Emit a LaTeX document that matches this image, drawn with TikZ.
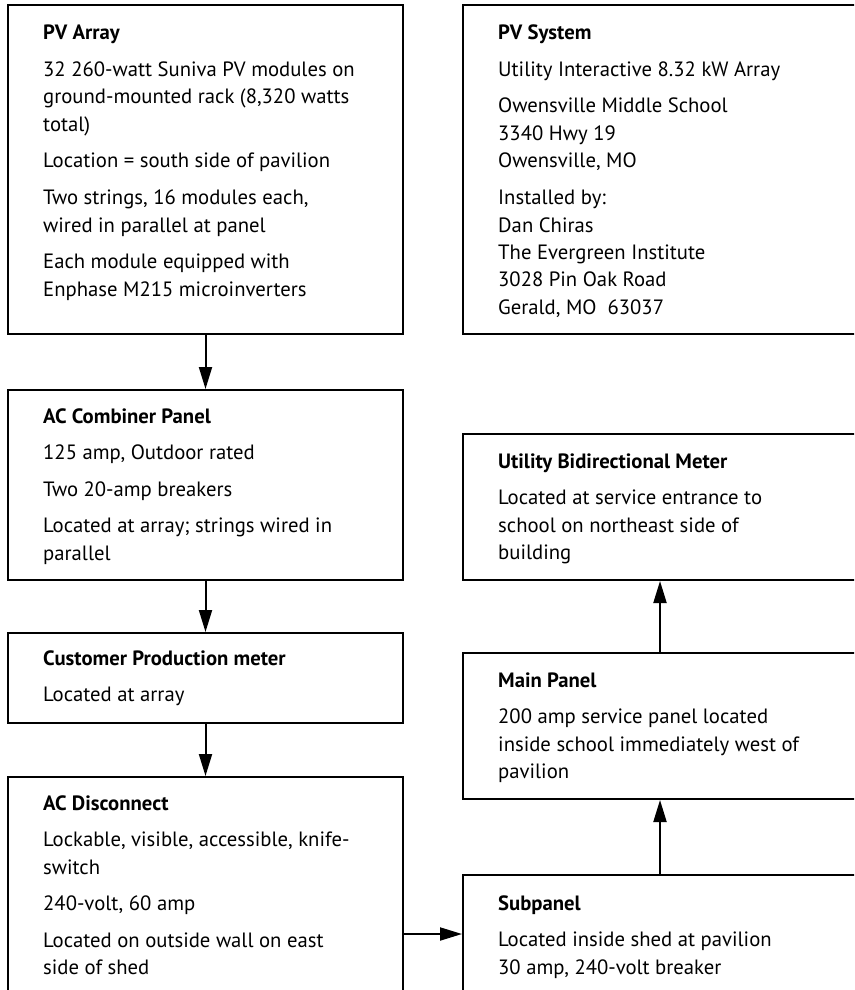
\documentclass[tikz,border=0pt]{standalone}
\usepackage{fontspec}
\setmainfont{PT Sans}
\usetikzlibrary{arrows.meta}
\newcommand{\psep}{\\[9pt]}
\newcommand{\boxtext}[2]{\parbox[t]{380pt}{\fontsize{20.7pt}{27.5pt}\selectfont\raggedright{\bfseries #1}\psep #2}}
\begin{document}
\begin{tikzpicture}[x=1pt,y=-1pt,
  box/.style={draw=black,line width=2pt,anchor=north west,inner sep=0pt},
  lbl/.style={anchor=base west,inner sep=0pt},
  conn/.style={line width=2pt,-{Triangle[length=22pt,width=13pt]}}]
\useasboundingbox (0,0) rectangle (854,990);
\clip (0,0) rectangle (854,990);
% boxes
\node[box,minimum width=395pt,minimum height=329pt] (pva) at (7,4) {};
\node[box,minimum width=394pt,minimum height=329pt] (pvs) at (462,4) {};
\node[box,minimum width=395pt,minimum height=190pt] (acc) at (7,389) {};
\node[box,minimum width=395pt,minimum height=90pt] (cpm) at (7,632) {};
\node[box,minimum width=395pt,minimum height=314pt] (acd) at (7,776) {};
\node[box,minimum width=394pt,minimum height=146pt] (ubm) at (462,433) {};
\node[box,minimum width=394pt,minimum height=146pt] (mpn) at (462,652) {};
\node[box,minimum width=394pt,minimum height=118pt] (sub) at (462,874) {};
% texts
\node[lbl] (pvat) at (43,40) {\boxtext{PV Array}{32 260-watt Suniva PV modules on\\ground-mounted rack (8,320 watts\\total)\psep Location = south side of pavilion\psep Two strings, 16 modules each,\\wired in parallel at panel\psep Each module equipped with\\Enphase M215 microinverters}};
\node[lbl] (pvst) at (498,40) {\boxtext{PV System}{Utility Interactive 8.32 kW Array\psep Owensville Middle School\\3340 Hwy 19\\Owensville, MO\psep Installed by:\\Dan Chiras\\The Evergreen Institute\\3028 Pin Oak Road\\Gerald, MO\ \ 63037}};
\node[lbl] (acct) at (43,423) {\boxtext{AC Combiner Panel}{125 amp, Outdoor rated\psep Two 20-amp breakers\psep Located at array; strings wired in\\parallel}};
\node[lbl] (cpmt) at (43,665) {\boxtext{Customer Production meter}{Located at array}};
\node[lbl] (acdt) at (43,810) {\boxtext{AC Disconnect}{Lockable, visible, accessible, knife-\\switch\psep 240-volt, 60 amp\psep Located on outside wall on east\\side of shed}};
\node[lbl] (ubmt) at (498,468) {\boxtext{Utility Bidirectional Meter}{Located at service entrance to\\school on northeast side of\\building}};
\node[lbl] (mpnt) at (498,687) {\boxtext{Main Panel}{200 amp service panel located\\inside school immediately west of\\pavilion}};
\node[lbl] (subt) at (498,910) {\boxtext{Subpanel}{Located inside shed at pavilion\\30 amp, 240-volt breaker}};
% connectors
\draw[conn] (pva.south) -- (acc.north);
\draw[conn] (acc.south) -- (cpm.north);
\draw[conn] (cpm.south) -- (acd.north);
\draw[conn] (acd.east) -- (sub.west);
\draw[conn] (sub.north) -- (mpn.south);
\draw[conn] (mpn.north) -- (ubm.south);
\end{tikzpicture}
\end{document}
